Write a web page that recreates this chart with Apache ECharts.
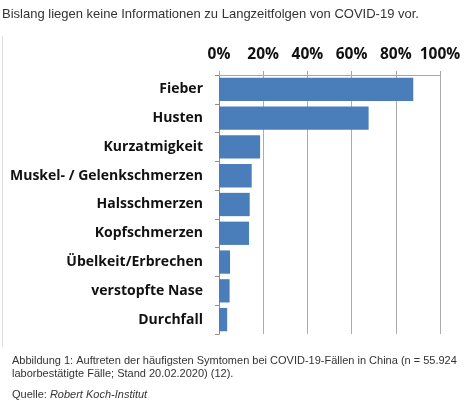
<!DOCTYPE html>
<html>
<head>
<meta charset="utf-8">
<script src="https://cdn.jsdelivr.net/npm/echarts@6/dist/echarts.min.js"></script>
<style>
  html, body { margin: 0; padding: 0; background: #fff; }
  #chart { width: 474px; height: 403px; }
</style>
</head>
<body>
<div id="chart"></div>
<script>
// Symptome (von oben nach unten)
const symptoms = [
  'Fieber',
  'Husten',
  'Kurzatmigkeit',
  'Muskel- / Gelenkschmerzen',
  'Halsschmerzen',
  'Kopfschmerzen',
  'Übelkeit/Erbrechen',
  'verstopfte Nase',
  'Durchfall'
]
// Anteil der Fälle in %
const shares = [87.9, 67.7, 18.6, 14.8, 13.9, 13.6, 5.0, 4.8, 3.7]
const xTicks = [0, 20, 40, 60, 80, 100]

const headline = 'Bislang liegen keine Informationen zu Langzeitfolgen von COVID-19 vor.'
const captionLines = [
  'Abbildung 1: Auftreten der häufigsten Symtomen bei COVID-19-Fällen in China (n = 55.924',
  'laborbestätigte Fälle; Stand 20.02.2020) (12).'
]

const chart = echarts.init(document.getElementById('chart'))

const option = {
  animation: false,
  grid: {
    left: 219,
    right: 34,
    top: 75,
    height: 259,
    containLabel: false
  },
  xAxis: {
    type: 'value',
    position: 'top',
    min: xTicks[0],
    max: xTicks[xTicks.length - 1],
    interval: 20,
    axisLine: { show: true, lineStyle: { color: '#a6a6a6', width: 1 } },
    axisTick: { show: true, length: 4, lineStyle: { color: '#a6a6a6' } },
    splitLine: { show: true, lineStyle: { color: '#ababab', width: 1 } },
    axisLabel: {
      formatter: v => v + '%',
      color: '#111',
      fontFamily: 'Open Sans',
      fontWeight: 'bold',
      fontSize: 15.5,
      margin: 12
    }
  },
  yAxis: {
    type: 'category',
    inverse: true,
    data: symptoms,
    axisLine: { show: true, lineStyle: { color: '#8c8c8c' } },
    axisTick: { show: true, length: 4, lineStyle: { color: '#9c8c80' } },
    axisLabel: {
      color: '#111',
      fontFamily: 'Open Sans',
      fontWeight: 'bold',
      fontSize: 14,
      margin: 16
    }
  },
  series: [
    {
      type: 'bar',
      data: shares,
      barCategoryGap: '19%',
      itemStyle: { color: '#4a7ebb' }
    }
  ],
  graphic: [
    {
      type: 'rect',
      shape: { x: 2, y: 36, width: 1, height: 311 },
      style: { fill: '#dcdcdc' }
    },
    {
      type: 'text',
      left: 2,
      top: 8,
      style: {
        text: headline,
        fill: '#333',
        font: '13px "Liberation Sans", Arial, sans-serif'
      }
    },
    {
      type: 'text',
      left: 12,
      top: 354,
      style: {
        text: captionLines.join('\n'),
        fill: '#333',
        lineHeight: 13,
        font: '11px "Liberation Sans", Arial, sans-serif'
      }
    },
    {
      type: 'text',
      left: 12,
      top: 389,
      style: {
        text: '{n|Quelle: }{i|Robert Koch-Institut}',
        rich: {
          n: { fill: '#333', font: '11px "Liberation Sans", Arial, sans-serif' },
          i: { fill: '#333', font: 'italic 11px "Liberation Sans", Arial, sans-serif' }
        }
      }
    }
  ]
}

chart.setOption(option)
</script>
</body>
</html>
